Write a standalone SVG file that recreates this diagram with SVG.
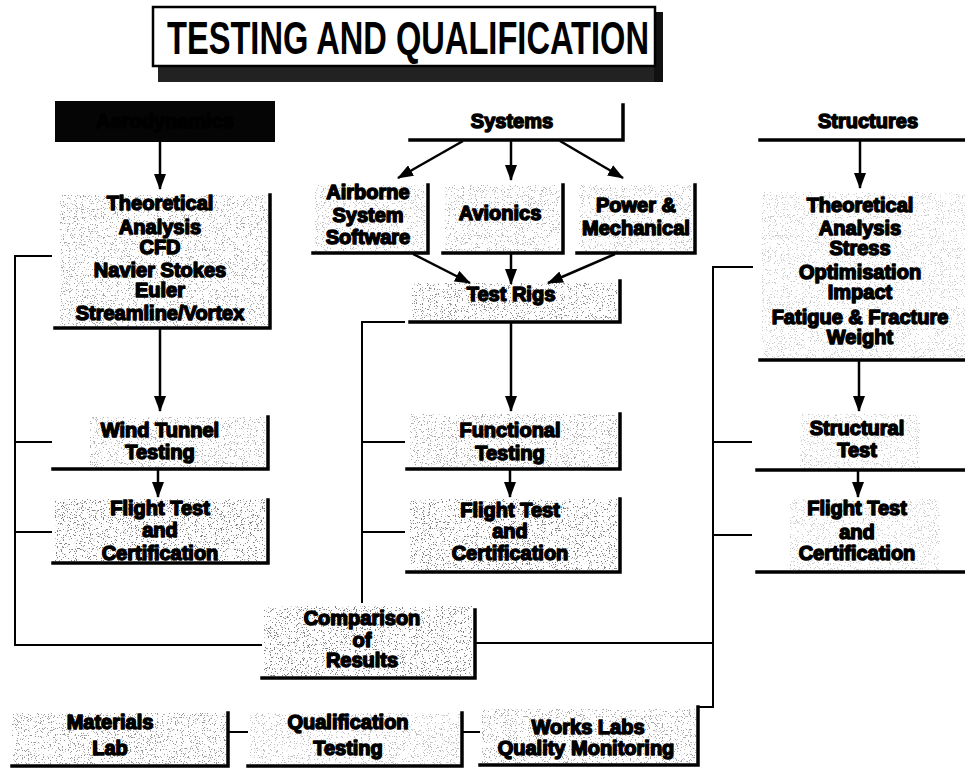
<svg xmlns="http://www.w3.org/2000/svg" width="965" height="768" viewBox="0 0 965 768">
  <defs>
    <style>
      .lbl { font-family: "Liberation Sans", Arial, sans-serif; font-weight: bold; font-size: 20px; fill: #000; stroke: #000; stroke-width: 1.5; stroke-linejoin: round; text-anchor: middle; }
      .frame { fill: none; stroke: #000; stroke-width: 3.5; stroke-linecap: square; }
      .wire { fill: none; stroke: #000; stroke-width: 2; }
      .arrow { fill: none; stroke: #000; stroke-width: 2.5; marker-end: url(#head); }
      .shade { fill: #fff; filter: url(#grain); }
    </style>
    <marker id="head" viewBox="0 0 16 12" refX="15" refY="6" markerWidth="16" markerHeight="12" markerUnits="userSpaceOnUse" orient="auto">
      <path d="M0,0 L16,6 L0,12 Z" fill="#000"/>
    </marker>
    <!-- halftone stipple used behind the box labels -->
    <filter id="grain" x="0" y="0" width="100%" height="100%">
      <feTurbulence type="fractalNoise" baseFrequency="0.85" numOctaves="3" seed="7" result="n"/>
      <feColorMatrix in="n" type="matrix" values="0 0 0 0 0  0 0 0 0 0  0 0 0 0 0  16 0 0 0 -9.8" result="dots"/>
      <feComposite in="dots" in2="SourceGraphic" operator="in"/>
    </filter>
  </defs>

  <rect width="965" height="768" fill="#fff"/>

  <!-- title banner with drop shadow -->
  <g id="title">
    <rect x="158" y="62" width="505" height="20" fill="#222"/>
    <rect x="654" y="12" width="9" height="70" fill="#111"/>
    <rect x="153" y="7" width="502" height="59" fill="#fff" stroke="#000" stroke-width="2.5"/>
    <text x="408" y="54" font-family="'Liberation Sans', Arial, sans-serif" font-weight="bold" font-size="47" text-anchor="middle" textLength="482" lengthAdjust="spacingAndGlyphs">TESTING AND QUALIFICATION</text>
  </g>

  <!-- connectors -->
  <g id="connectors">
    <!-- left feedback bracket -->
    <path class="wire" d="M52,256 H15 V645 H262"/>
    <path class="wire" d="M15,442 H52 M15,532 H52"/>
    <!-- centre feedback bracket -->
    <path class="wire" d="M405,322 H362 V603"/>
    <path class="wire" d="M362,442 H405 M362,532 H405"/>
    <!-- right feedback bracket -->
    <path class="wire" d="M753,267 H713 V707 H698"/>
    <path class="wire" d="M713,442 H752 M713,535 H752"/>
    <path class="wire" d="M475,643 H713"/>
    <!-- bottom row links -->
    <path class="wire" d="M228,732 H248 M462,732 H480"/>

    <!-- flow arrows -->
    <path class="arrow" d="M160,142 V189"/>
    <path class="arrow" d="M160,328 V411"/>
    <path class="arrow" d="M158,469 V497"/>
    <path class="arrow" d="M463,141 L398,178"/>
    <path class="arrow" d="M511,141 V180"/>
    <path class="arrow" d="M560,141 L623,178"/>
    <path class="arrow" d="M413,254 L470,283"/>
    <path class="arrow" d="M511,254 V284"/>
    <path class="arrow" d="M615,254 L548,283"/>
    <path class="arrow" d="M511,322 V411"/>
    <path class="arrow" d="M510,469 V497"/>
    <path class="arrow" d="M860,141 V188"/>
    <path class="arrow" d="M859,360 V411"/>
    <path class="arrow" d="M858,470 V497"/>
  </g>

  <!-- aerodynamics column -->
  <g id="aerodynamics">
    <rect x="55" y="101" width="220" height="41" fill="#050505"/>
    <text class="lbl" x="165" y="128" fill="#0a0a0a" stroke="#0a0a0a">Aerodynamics</text>
  </g>
  <g id="aero-analysis">
    <rect class="shade" x="60" y="195" width="208" height="131" opacity="0.35"/>
    <path class="frame" d="M270,195 V328 H55"/>
    <text class="lbl" x="160" y="210">Theoretical</text>
    <text class="lbl" x="160" y="234">Analysis</text>
    <text class="lbl" x="160" y="254">CFD</text>
    <text class="lbl" x="160" y="277">Navier Stokes</text>
    <text class="lbl" x="160" y="297">Euler</text>
    <text class="lbl" x="160" y="320">Streamline/Vortex</text>
  </g>
  <g id="wind-tunnel">
    <rect class="shade" x="90" y="417" width="175" height="50" opacity="0.3"/>
    <path class="frame" d="M268,417 V469 H53"/>
    <text class="lbl" x="160" y="437">Wind Tunnel</text>
    <text class="lbl" x="160" y="459">Testing</text>
  </g>
  <g id="aero-flight">
    <rect class="shade" x="55" y="499" width="210" height="62" opacity="0.5"/>
    <path class="frame" d="M268,500 V563 H53"/>
    <text class="lbl" x="160" y="515">Flight Test</text>
    <text class="lbl" x="160" y="537">and</text>
    <text class="lbl" x="160" y="560">Certification</text>
  </g>

  <!-- systems column -->
  <g id="systems">
    <path class="frame" d="M623,105 V140 H410"/>
    <text class="lbl" x="512" y="128">Systems</text>
  </g>
  <g id="airborne-software">
    <rect class="shade" x="315" y="185" width="110" height="66" opacity="0.25"/>
    <path class="frame" d="M428,185 V253 H313"/>
    <text class="lbl" x="368" y="199">Airborne</text>
    <text class="lbl" x="368" y="222">System</text>
    <text class="lbl" x="368" y="244">Software</text>
  </g>
  <g id="avionics">
    <rect class="shade" x="445" y="185" width="115" height="66" opacity="0.3"/>
    <path class="frame" d="M563,185 V253 H443"/>
    <text class="lbl" x="500" y="220">Avionics</text>
  </g>
  <g id="power-mechanical">
    <rect class="shade" x="579" y="185" width="113" height="66" opacity="0.25"/>
    <path class="frame" d="M695,185 V253 H577"/>
    <text class="lbl" x="636" y="212">Power &amp;</text>
    <text class="lbl" x="636" y="235">Mechanical</text>
  </g>
  <g id="test-rigs">
    <rect class="shade" x="412" y="283" width="205" height="37" opacity="0.45"/>
    <path class="frame" d="M620,281 V322 H410"/>
    <text class="lbl" x="511" y="301">Test Rigs</text>
  </g>
  <g id="functional">
    <rect class="shade" x="410" y="414" width="207" height="53" opacity="0.35"/>
    <path class="frame" d="M620,414 V469 H407"/>
    <text class="lbl" x="510" y="437">Functional</text>
    <text class="lbl" x="510" y="460">Testing</text>
  </g>
  <g id="systems-flight">
    <rect class="shade" x="410" y="499" width="207" height="71" opacity="0.5"/>
    <path class="frame" d="M620,499 V572 H407"/>
    <text class="lbl" x="510" y="517">Flight Test</text>
    <text class="lbl" x="510" y="538">and</text>
    <text class="lbl" x="510" y="560">Certification</text>
  </g>

  <!-- structures column -->
  <g id="structures">
    <path class="frame" d="M760,140 H965"/>
    <text class="lbl" x="868" y="128">Structures</text>
  </g>
  <g id="structures-analysis">
    <rect class="shade" x="762" y="192" width="203" height="166" opacity="0.2"/>
    <path class="frame" d="M760,360 H965"/>
    <text class="lbl" x="860" y="212">Theoretical</text>
    <text class="lbl" x="860" y="235">Analysis</text>
    <text class="lbl" x="860" y="255">Stress</text>
    <text class="lbl" x="860" y="279">Optimisation</text>
    <text class="lbl" x="860" y="299">Impact</text>
    <text class="lbl" x="860" y="324">Fatigue &amp; Fracture</text>
    <text class="lbl" x="860" y="344">Weight</text>
  </g>
  <g id="structural-test">
    <rect class="shade" x="800" y="414" width="120" height="54" opacity="0.2"/>
    <path class="frame" d="M757,470 H965"/>
    <text class="lbl" x="857" y="435">Structural</text>
    <text class="lbl" x="857" y="457">Test</text>
  </g>
  <g id="structures-flight">
    <rect class="shade" x="790" y="499" width="150" height="71" opacity="0.2"/>
    <path class="frame" d="M757,572 H965"/>
    <text class="lbl" x="857" y="515">Flight Test</text>
    <text class="lbl" x="857" y="539">and</text>
    <text class="lbl" x="857" y="560">Certification</text>
  </g>

  <!-- comparison and qualification -->
  <g id="comparison">
    <rect class="shade" x="264" y="606" width="208" height="70" opacity="0.5"/>
    <path class="frame" d="M475,610 V678 H262"/>
    <text class="lbl" x="362" y="625">Comparison</text>
    <text class="lbl" x="362" y="647">of</text>
    <text class="lbl" x="362" y="667">Results</text>
  </g>
  <g id="materials-lab">
    <rect class="shade" x="12" y="713" width="214" height="51" opacity="0.4"/>
    <path class="frame" d="M228,713 V766 H12"/>
    <text class="lbl" x="110" y="729">Materials</text>
    <text class="lbl" x="110" y="755">Lab</text>
  </g>
  <g id="qualification">
    <rect class="shade" x="250" y="713" width="210" height="51" opacity="0.25"/>
    <path class="frame" d="M462,713 V766 H248"/>
    <text class="lbl" x="348" y="729">Qualification</text>
    <text class="lbl" x="348" y="755">Testing</text>
  </g>
  <g id="works-labs">
    <rect class="shade" x="482" y="709" width="214" height="54" opacity="0.35"/>
    <path class="frame" d="M698,707 V765 H480"/>
    <text class="lbl" x="588" y="734">Works Labs</text>
    <text class="lbl" x="586" y="755">Quality Monitoring</text>
  </g>
</svg>
